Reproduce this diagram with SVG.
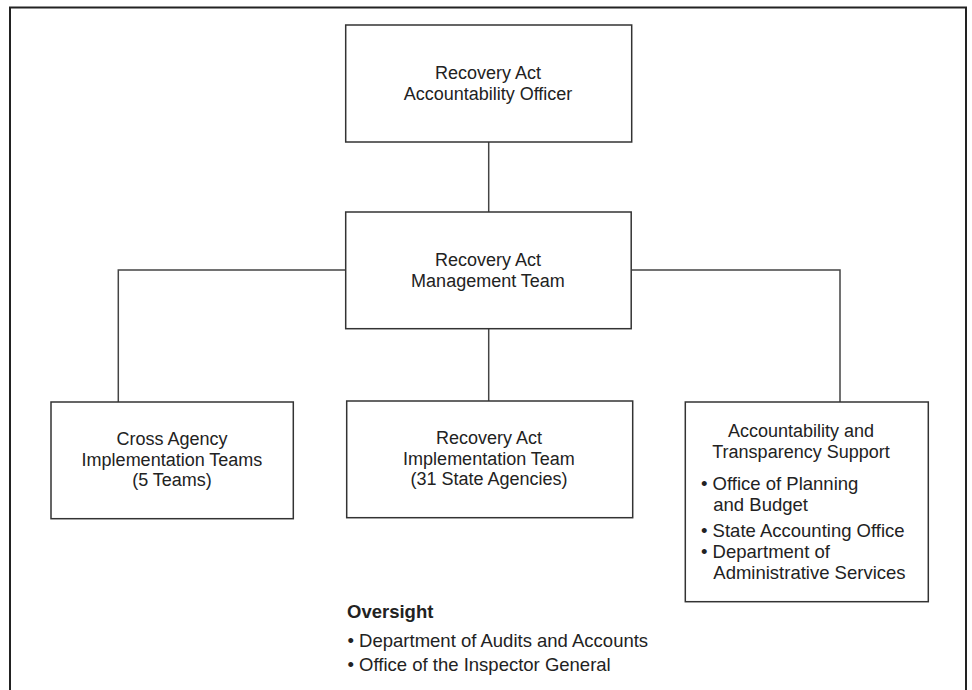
<svg xmlns="http://www.w3.org/2000/svg" width="972" height="690" viewBox="0 0 972 690">
<style>
.box{fill:#fff;stroke:#333;stroke-width:1.5}
.frame{fill:none;stroke:#222;stroke-width:2}
.conn{fill:none;stroke:#444;stroke-width:1.5}
text{font-family:"Liberation Sans",Arial,sans-serif;font-size:18px;fill:#222}
.c{text-anchor:middle}
.b{font-weight:bold}
.l{font-size:18.5px}
</style>
<rect width="972" height="690" fill="#fff"/>
<path class="frame" d="M10,691 V7.5 H966 V691"/>
<g id="connectors">
<line class="conn" x1="488.7" y1="142" x2="488.7" y2="212"/>
<line class="conn" x1="488.7" y1="328.7" x2="488.7" y2="401"/>
<polyline class="conn" points="345.7,270 118.3,270 118.3,402"/>
<polyline class="conn" points="631.7,270 840,270 840,402"/>
</g>
<g id="officer">
<rect class="box" x="345.7" y="25" width="286" height="117"/>
<text class="c" x="488" y="79">Recovery Act</text>
<text class="c" x="488" y="100">Accountability Officer</text>
</g>
<g id="management">
<rect class="box" x="345.7" y="212" width="285.5" height="116.7"/>
<text class="c" x="488" y="266">Recovery Act</text>
<text class="c" x="488" y="287">Management Team</text>
</g>
<g id="cross-agency">
<rect class="box" x="51" y="402" width="242.3" height="116.7"/>
<text class="c" x="172" y="445">Cross Agency</text>
<text class="c" x="172" y="466">Implementation Teams</text>
<text class="c" x="172" y="486">(5 Teams)</text>
</g>
<g id="implementation">
<rect class="box" x="346.7" y="401" width="286" height="116.7"/>
<text class="c" x="489" y="444">Recovery Act</text>
<text class="c" x="489" y="465">Implementation Team</text>
<text class="c" x="489" y="485">(31 State Agencies)</text>
</g>
<g id="transparency">
<rect class="box" x="685.3" y="402" width="243" height="199.7"/>
<text class="c" x="801" y="437">Accountability and</text>
<text class="c" x="801" y="457.5">Transparency Support</text>
<text class="l" x="701" y="489.5">• Office of Planning</text>
<text class="l" x="713.3" y="511">and Budget</text>
<text class="l" x="701" y="537.3">• State Accounting Office</text>
<text class="l" x="701" y="557.7">• Department of</text>
<text class="l" x="713.3" y="579.3">Administrative Services</text>
</g>
<g id="oversight">
<text class="b l" x="347" y="618">Oversight</text>
<text class="l" x="347.5" y="646.5">• Department of Audits and Accounts</text>
<text class="l" x="347.5" y="671">• Office of the Inspector General</text>
</g>
</svg>
